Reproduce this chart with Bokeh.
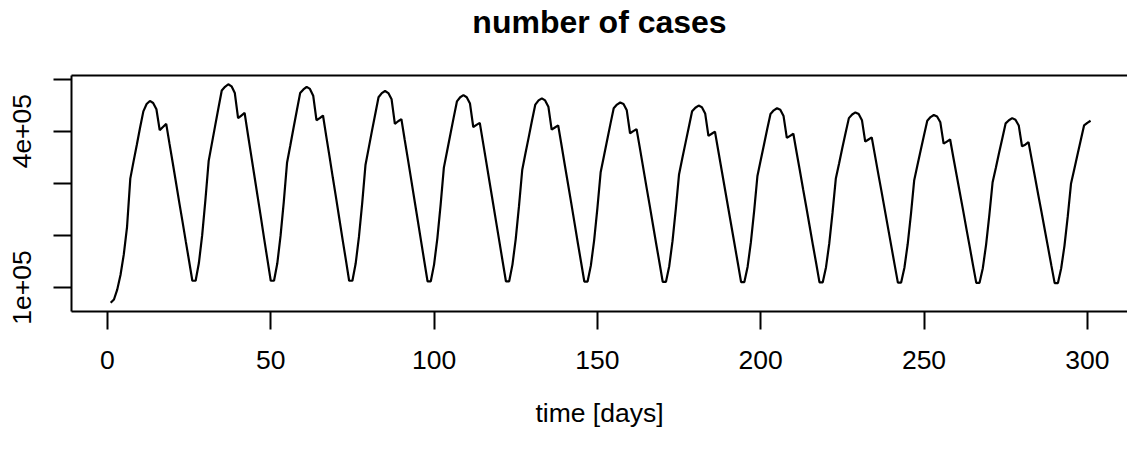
from bokeh.plotting import figure
from bokeh.models import Range1d, FixedTicker, LinearAxis
from bokeh.embed import file_html
from bokeh.resources import INLINE

# ---------------- data ----------------
cases_c1 = [70800, 77000, 96000, 124000, 163000, 216000, 309000, 342000, 374000, 407000,
            438000, 452000, 458000, 454000, 442000, 402000, 408000, 414000, 376000, 339000,
            301000, 263000, 226000, 188000, 151000, 113000, 113000]
cases_c2 = [147000, 200000, 268000, 343000, 377000, 411000, 445000, 478000, 485000, 490000,
            486000, 473000, 425000, 430000, 435000, 394000, 354000, 314000, 274000, 234000,
            193000, 153000, 113000, 113000]
cases_c3 = [146000, 199000, 265000, 340000, 373000, 407000, 440000, 473000, 480000, 485000,
            481000, 468000, 421000, 425000, 430000, 390000, 351000, 311000, 272000, 232000,
            192000, 153000, 113000, 113000]
cases_c4 = [146000, 197000, 262000, 335000, 368000, 401000, 433000, 465000, 473000, 477000,
            473000, 461000, 414000, 419000, 423000, 384000, 346000, 307000, 268000, 229000,
            190000, 151000, 112000, 112000]
cases_c5 = [144000, 194000, 258000, 330000, 362000, 394000, 426000, 457000, 465000, 469000,
            465000, 453000, 408000, 412000, 416000, 378000, 340000, 302000, 264000, 226000,
            188000, 150000, 112000, 112000]
cases_c6 = [144000, 193000, 256000, 326000, 358000, 389000, 421000, 451000, 459000, 463000,
            459000, 447000, 403000, 407000, 411000, 374000, 336000, 299000, 262000, 224000,
            186000, 149000, 111500, 111500]
cases_c7 = [142000, 190000, 252000, 321000, 352000, 383000, 414000, 444000, 451000, 455000,
            452000, 440000, 396000, 400000, 404000, 368000, 331000, 294000, 258000, 221000,
            184000, 148000, 111000, 111000]
cases_c8 = [141000, 189000, 250000, 317000, 348000, 378000, 408000, 438000, 445000, 449000,
            446000, 434000, 391000, 395000, 399000, 363000, 327000, 291000, 255000, 219000,
            183000, 147000, 110500, 110500]
cases_c9 = [140000, 187000, 247000, 314000, 344000, 374000, 404000, 433000, 440000, 444000,
            441000, 429000, 387000, 391000, 395000, 359000, 324000, 288000, 253000, 217000,
            181000, 146000, 110000, 110000]
cases_c10 = [139000, 185000, 244000, 309000, 338000, 368000, 397000, 425000, 432000, 436000,
             433000, 421000, 380000, 384000, 388000, 353000, 318000, 284000, 249000, 214000,
             179000, 144000, 109500, 109500]
cases_c11 = [138000, 183000, 241000, 306000, 335000, 364000, 392000, 420000, 427000, 431000,
             428000, 417000, 376000, 380000, 384000, 349000, 315000, 281000, 247000, 212000,
             178000, 143000, 109000, 109000]
cases_c12 = [137000, 182000, 239000, 302000, 330000, 359000, 387000, 415000, 421000, 425000,
             422000, 411000, 371000, 374000, 379000, 345000, 311000, 277000, 244000, 210000,
             176000, 142000, 108500, 108500]
cases_c13 = [137000, 180000, 236000, 299000, 327000, 355000, 383000, 411000, 416000, 420000]

cases = (cases_c1 + cases_c2 + cases_c3 + cases_c4 + cases_c5 + cases_c6 + cases_c7 +
         cases_c8 + cases_c9 + cases_c10 + cases_c11 + cases_c12 + cases_c13)
days = list(range(1, len(cases) + 1))

x_ticks = [0, 50, 100, 150, 200, 250, 300]
y_ticks = [100000, 200000, 300000, 400000, 500000]
y_tick_labels = {100000: "1e+05", 200000: "", 300000: "", 400000: "4e+05", 500000: ""}
title_text = "number of cases"
x_label = "time [days]"

# ---------------- ranges (R style 4% padding) ----------------
ypad = 0.04 * (max(cases) - min(cases))
y0, y1 = min(cases) - ypad, max(cases) + ypad
x0 = days[0] - 0.04 * (days[-1] - days[0])
x_end = 312.3  # right part of R's box falls outside the picture

FONT = "Liberation Sans"
LW = 2.0

p = figure(width=1127, height=436,
           x_range=Range1d(x0, x_end), y_range=Range1d(y0, y1),
           min_border_left=71, min_border_right=0, min_border_top=73, min_border_bottom=125,
           output_backend="svg", toolbar_location=None)

p.line(days, cases, line_color="black", line_width=2.2)

p.outline_line_color = None
p.xgrid.visible = False
p.ygrid.visible = False
p.background_fill_color = "white"
p.border_fill_color = "white"

for ax in (p.xaxis[0], p.yaxis[0]):
    ax.axis_line_color = "black"
    ax.axis_line_width = LW
    ax.major_tick_line_color = "black"
    ax.major_tick_line_width = LW
    ax.major_tick_out = 18
    ax.major_tick_in = 0
    ax.minor_tick_line_color = None
    ax.minor_tick_out = 0
    ax.minor_tick_in = 0
    ax.major_label_text_font = FONT
    ax.major_label_text_font_size = "26.5px"
    ax.major_label_text_color = "black"

xa = p.xaxis[0]
xa.ticker = FixedTicker(ticks=x_ticks)
xa.major_label_standoff = 21
xa.axis_label = x_label
xa.axis_label_text_font = FONT
xa.axis_label_text_font_size = "26.5px"
xa.axis_label_text_font_style = "normal"
xa.axis_label_text_color = "black"
xa.axis_label_standoff = 26

ya = p.yaxis[0]
ya.ticker = FixedTicker(ticks=y_ticks)
ya.major_label_overrides = y_tick_labels
ya.major_label_orientation = "vertical"
ya.major_label_standoff = 22

# top edge of the box + main title (as the label of an untick'd top axis)
top_ax = LinearAxis(ticker=FixedTicker(ticks=[]))
top_ax.axis_line_color = "black"
top_ax.axis_line_width = LW
top_ax.major_tick_out = 0
top_ax.major_tick_in = 0
top_ax.minor_tick_out = 0
top_ax.minor_tick_in = 0
top_ax.major_label_standoff = 0
top_ax.axis_label = title_text
top_ax.axis_label_text_font = FONT
top_ax.axis_label_text_font_size = "32px"
top_ax.axis_label_text_font_style = "bold"
top_ax.axis_label_text_color = "black"
top_ax.axis_label_standoff = 36
p.add_layout(top_ax, "above")

open("out.html", "w").write(file_html(p, INLINE))
